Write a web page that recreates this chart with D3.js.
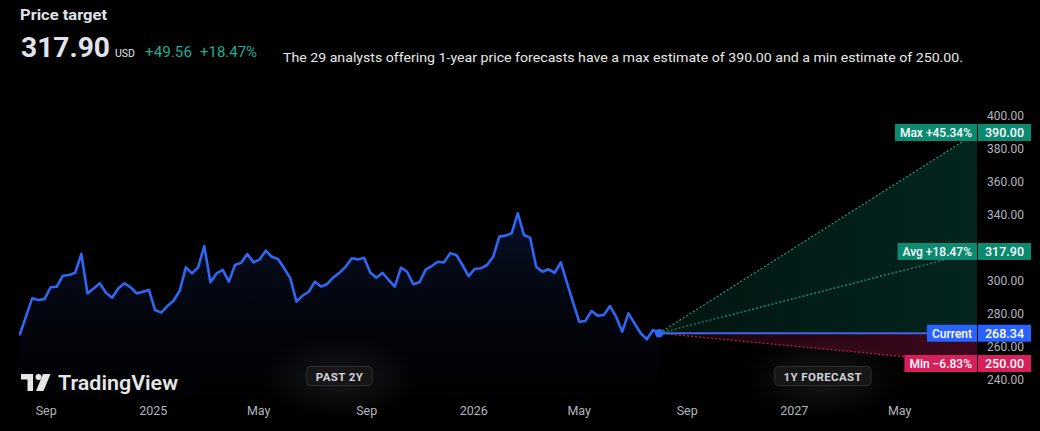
<!DOCTYPE html>
<html><head><meta charset="utf-8">
<script src="https://cdn.jsdelivr.net/npm/d3@7"></script>
<style>
html,body{margin:0;padding:0;background:#000;}
svg{display:block;}
text{font-family:Roboto,"Noto Sans",Arial,sans-serif;}
</style></head>
<body><svg id="chart" width="1040" height="431"></svg>
<script>
// ---------- DATA ----------
const titleText = "Price target";
const targetValue = "317.90";
const currencyText = "USD";
const changeAbs = "+49.56";
const changePct = "+18.47%";
const descriptionText = "The 29 analysts offering 1-year price forecasts have a max estimate of 390.00 and a min estimate of 250.00.";

const firstWeek = "2024-08-02";           // first weekly close shown
const priceValues = [
  267.7,278.6,289.5,288.5,289.0,296.2,296.6,303.2,303.6,305.0,
  316.4,292.5,295.5,298.6,292.9,289.9,295.5,298.6,296.2,292.5,
  293.5,294.5,282.4,280.8,284.8,288.0,294.1,308.3,304.6,308.3,
  321.2,299.2,304.6,306.7,299.6,309.7,311.1,316.4,311.3,313.1,
  318.4,314.7,313.3,307.7,301.6,287.5,291.1,293.5,299.6,296.6,
  298.2,302.2,305.0,308.7,313.8,313.1,314.1,305.2,302.0,305.0,
  300.6,296.6,308.1,305.6,298.0,299.2,306.7,309.1,311.7,311.3,
  316.8,315.8,309.7,303.0,307.3,307.7,309.7,314.7,326.9,327.5,
  328.9,341.0,327.9,326.3,308.7,305.6,307.1,305.0,311.3,299.0,
  287.0,275.3,275.8,281.8,279.0,279.4,284.8,278.4,269.3,280.4,
  274.3,268.3,264.7,270.3,268.34
];
const currentPrice = 268.34;
const forecastNames = ["Max", "Avg", "Min"];
const forecastValues = [390.00, 317.90, 250.00];
const forecastPctText = ["+45.34%", "+18.47%", "\u22126.83%"];
const forecastEndDate = "2027-07-28";

const yTickValues = [240, 260, 280, 300, 320, 340, 360, 380, 400];
const xTickDates = ["2024-09-01","2025-01-01","2025-05-01","2025-09-01","2026-01-01","2026-05-01","2026-09-01","2027-01-01","2027-05-01"];
const xTickLabels = ["Sep","2025","May","Sep","2026","May","Sep","2027","May"];
const periodLabels = ["PAST 2Y", "1Y FORECAST"];

// ---------- SETUP ----------
const svg = d3.select("#chart");
const W = 1040, H = 431;
const plotLeft = 19, plotRight = 977, plotTop = 100, plotBottom = 398;
const parse = d3.utcParse("%Y-%m-%d");

const startDate = parse(firstWeek);
const priceData = priceValues.map((v, i) => ({date: d3.utcDay.offset(startDate, 7 * i), value: v}));
const currentDate = priceData[priceData.length - 1].date;
const endDate = parse(forecastEndDate);

const x = d3.scaleUtc()
  .domain([d3.utcDay.offset(startDate, -1), endDate])
  .range([plotLeft, plotRight]);
const y = d3.scaleLinear().domain([240, 400]).range([380, 116]);

svg.append("rect").attr("width", W).attr("height", H).attr("fill", "#000");

const defs = svg.append("defs");
const areaGrad = defs.append("linearGradient").attr("id", "areaGrad")
  .attr("x1", 0).attr("y1", 0).attr("x2", 0).attr("y2", 1);
areaGrad.append("stop").attr("offset", "0%").attr("stop-color", "#1c3a8a").attr("stop-opacity", 0.28);
areaGrad.append("stop").attr("offset", "100%").attr("stop-color", "#0b1430").attr("stop-opacity", 0.05);

const upGrad = defs.append("linearGradient").attr("id", "upGrad")
  .attr("x1", 0).attr("y1", 0).attr("x2", 1).attr("y2", 0);
upGrad.append("stop").attr("offset", "0%").attr("stop-color", "#0c8f73").attr("stop-opacity", 0.14);
upGrad.append("stop").attr("offset", "100%").attr("stop-color", "#0c8f73").attr("stop-opacity", 0.26);

const dnGrad = defs.append("linearGradient").attr("id", "dnGrad")
  .attr("x1", 0).attr("y1", 0).attr("x2", 1).attr("y2", 0);
dnGrad.append("stop").attr("offset", "0%").attr("stop-color", "#c2185b").attr("stop-opacity", 0.12);
dnGrad.append("stop").attr("offset", "100%").attr("stop-color", "#c2185b").attr("stop-opacity", 0.32);

const glow = defs.append("radialGradient").attr("id", "glow");
glow.append("stop").attr("offset", "0%").attr("stop-color", "#ffffff").attr("stop-opacity", 0.09);
glow.append("stop").attr("offset", "100%").attr("stop-color", "#ffffff").attr("stop-opacity", 0);

defs.append("clipPath").attr("id", "plotClip").append("rect")
  .attr("x", plotLeft).attr("y", plotTop).attr("width", plotRight - plotLeft + 1).attr("height", plotBottom - plotTop);

// ---------- HEADER ----------
function headerText(xx, yy, size, weight, color, len, txt) {
  svg.append("text").attr("x", xx).attr("y", yy).attr("fill", color)
    .attr("font-size", size).attr("font-weight", weight)
    .attr("textLength", len).attr("lengthAdjust", "spacingAndGlyphs").text(txt);
}
headerText(20, 20, 15.5, 700, "#e0e3eb", 87, titleText);
headerText(21, 57, 28, 700, "#e0e3eb", 89, targetValue);
headerText(115, 57, 10.5, 400, "#e0e3eb", 20, currencyText);
headerText(145, 57, 14, 400, "#22ab94", 47, changeAbs);
headerText(200, 57, 14, 400, "#22ab94", 57, changePct);
headerText(283, 62, 13.5, 400, "#e8e8e8", 680, descriptionText);

// ---------- GLOWS ----------
const periodCenters = [
  x(startDate) + (x(currentDate) - x(startDate)) * 0.5,
  x(currentDate) + (x(endDate) - x(currentDate)) * 0.515
];
periodCenters.forEach(cx => {
  svg.append("ellipse").attr("cx", cx).attr("cy", 378).attr("rx", 80).attr("ry", 42).attr("fill", "url(#glow)");
});

// ---------- PLOT ----------
const plot = svg.append("g").attr("clip-path", "url(#plotClip)");

const area = d3.area().x(d => x(d.date)).y0(plotBottom).y1(d => y(d.value));
plot.append("path").datum(priceData).attr("d", area).attr("fill", "url(#areaGrad)");

const cx0 = x(currentDate), cy0 = y(currentPrice);
const xEnd = x(endDate);

plot.append("path")
  .attr("d", d3.line()([[cx0, cy0], [xEnd, y(forecastValues[0])], [xEnd, cy0]]) + "Z")
  .attr("fill", "url(#upGrad)");
plot.append("path")
  .attr("d", d3.line()([[cx0, cy0], [xEnd, cy0], [xEnd, y(forecastValues[2])]]) + "Z")
  .attr("fill", "url(#dnGrad)");

const lineColors = ["#1f9e80", "#1f9e80", "#c21d55"];
forecastValues.forEach((v, i) => {
  plot.append("line")
    .attr("x1", cx0).attr("y1", cy0).attr("x2", xEnd).attr("y2", y(v))
    .attr("stroke", lineColors[i]).attr("stroke-width", 1.2).attr("stroke-dasharray", "2,2");
});

plot.append("line").attr("x1", cx0).attr("y1", cy0).attr("x2", xEnd).attr("y2", cy0)
  .attr("stroke", "#3a66f0").attr("stroke-width", 2);

const line = d3.line().x(d => x(d.date)).y(d => y(d.value));
plot.append("path").datum(priceData).attr("d", line)
  .attr("fill", "none").attr("stroke", "#2f66f2").attr("stroke-width", 2.6)
  .attr("stroke-linejoin", "round").attr("stroke-linecap", "round");

svg.append("circle").attr("cx", cx0).attr("cy", cy0).attr("r", 4.2).attr("fill", "#2f66f2");

// ---------- PERIOD BADGES ----------
periodLabels.forEach((lbl, i) => {
  const g = svg.append("g");
  const t = g.append("text").attr("x", periodCenters[i]).attr("y", 380.5)
    .attr("text-anchor", "middle").attr("fill", "#d1d4dc").attr("font-size", 11.5)
    .attr("font-weight", 700).attr("letter-spacing", 0.4).text(lbl);
  const w = t.node().getComputedTextLength() + 18;
  g.insert("rect", "text").attr("x", periodCenters[i] - w / 2).attr("y", 366.5).attr("width", w).attr("height", 19)
    .attr("rx", 4).attr("fill", "#161616").attr("stroke", "#2e2e2e").attr("stroke-width", 1);
});

// ---------- RIGHT AXIS ----------
const badgeYs = forecastValues.map(v => y(v)).concat([y(currentPrice)]);
const axisG = svg.append("g");
yTickValues.forEach(v => {
  const ty = y(v);
  if (badgeYs.some(by => Math.abs(by - ty) < 12)) return;
  axisG.append("text").attr("x", 1024).attr("y", ty + 4).attr("text-anchor", "end")
    .attr("fill", "#b2b5be").attr("font-size", 12).text(d3.format(".2f")(v));
});

// ---------- BADGES ----------
function badge(label, value, color, yy) {
  const g = svg.append("g");
  g.append("text").attr("x", 1004.5).attr("y", yy + 4.3).attr("text-anchor", "middle")
    .attr("fill", "#ffffff").attr("font-size", 12.5).attr("font-weight", 500).text(d3.format(".2f")(value));
  g.insert("rect", "text").attr("x", 978).attr("y", yy - 8.5).attr("width", 53).attr("height", 17).attr("fill", color);
  const lt = g.append("text").attr("x", 972).attr("y", yy + 4.3).attr("text-anchor", "end")
    .attr("fill", "#ffffff").attr("font-size", 12).attr("font-weight", 500).text(label);
  const lw = lt.node().getComputedTextLength() + 10;
  g.insert("rect", "text").attr("x", 977 - lw).attr("y", yy - 8.5).attr("width", lw).attr("height", 17).attr("fill", color);
}
const badgeColors = ["#0b8a6f", "#0b8a6f", "#d81e5b"];
forecastValues.forEach((v, i) => badge(forecastNames[i] + " " + forecastPctText[i], v, badgeColors[i], y(v)));
badge("Current", currentPrice, "#2962ff", y(currentPrice));

// ---------- BOTTOM AXIS ----------
xTickDates.forEach((d, i) => {
  svg.append("text").attr("x", x(parse(d))).attr("y", 415).attr("text-anchor", "middle")
    .attr("fill", "#b2b5be").attr("font-size", 12.5).text(xTickLabels[i]);
});

// ---------- LOGO ----------
const logo = svg.append("g").attr("fill", "#e6e6e6");
logo.append("path").attr("d", "M21,374 H33 V391 H27.5 V379.5 H21 Z");
logo.append("circle").attr("cx", 38.5).attr("cy", 377).attr("r", 3);
logo.append("path").attr("d", "M43,374 H50.5 L43.5,391 H36 Z");
logo.append("text").attr("x", 58).attr("y", 390).attr("font-family", "Inter, Roboto, sans-serif")
  .attr("font-size", 20).attr("font-weight", 600).attr("textLength", 120).attr("lengthAdjust", "spacingAndGlyphs")
  .attr("fill", "#e6e6e6").text("TradingView");
</script></body></html>
